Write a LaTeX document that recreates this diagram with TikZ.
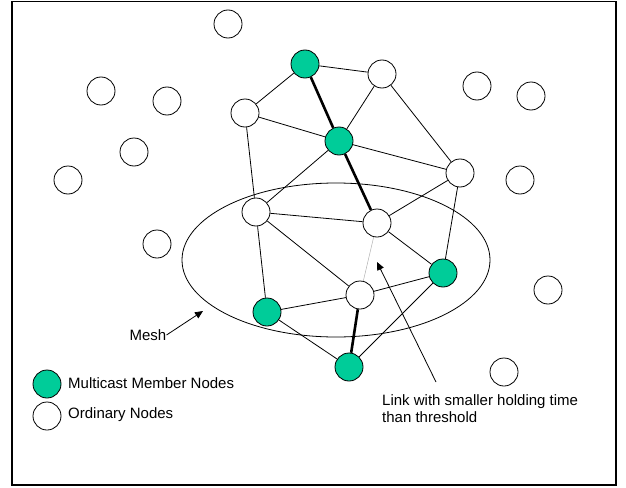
\documentclass[tikz,border=0pt]{standalone}
\usepackage{fontspec}
\setmainfont{Liberation Sans}
\usetikzlibrary{arrows.meta}
\definecolor{membergreen}{RGB}{0,204,153}

\begin{document}
\begin{tikzpicture}[x=1pt,y=-1pt,
  ordinary/.style={
    circle, draw, fill=white, line width=0.8pt,
    minimum size=28pt, inner sep=0pt,
  },
  member/.style={ordinary, fill=membergreen},
  link/.style={line width=0.8pt},
  tree link/.style={line width=2.6pt},
  weak link/.style={line width=0.5pt, draw=gray!60},
  pointer/.style={line width=0.8pt, -{Triangle[length=8pt,width=7pt]}},
  label text/.style={font=\fontsize{15}{17}\selectfont, inner sep=0pt, align=left},
  ]
  \useasboundingbox (0,0) rectangle (626,487);
  \draw[line width=1.6pt] (12,1.5) rectangle (616,485);
  \draw[line width=0.8pt] (336,260) ellipse [x radius=154, y radius=77];
  % mesh nodes
  \node[member] (m1) at (305,64) {};
  \node[member] (m2) at (339,141) {};
  \node[member] (m3) at (267,312) {};
  \node[member] (m4) at (443,273) {};
  \node[member] (m5) at (349,367) {};
  \node[ordinary] (o1) at (382,74) {};
  \node[ordinary] (o2) at (245,113) {};
  \node[ordinary] (o3) at (460,173) {};
  \node[ordinary] (o4) at (256,212) {};
  \node[ordinary] (o5) at (377,223) {};
  \node[ordinary] (o6) at (360,295) {};
  % other nodes
  \node[ordinary] (s1) at (228,24) {};
  \node[ordinary] (s2) at (101,91) {};
  \node[ordinary] (s3) at (167,101) {};
  \node[ordinary] (s4) at (134,152) {};
  \node[ordinary] (s5) at (68,180) {};
  \node[ordinary] (s6) at (157,244) {};
  \node[ordinary] (s7) at (477,86) {};
  \node[ordinary] (s8) at (531,96) {};
  \node[ordinary] (s9) at (520,180) {};
  \node[ordinary] (s10) at (548,290) {};
  \node[ordinary] (s11) at (504,372) {};
  % links
  \draw[link] (m1) -- (o1) (m1) -- (o2) (o1) -- (m2) (o1) -- (o3)
    (o2) -- (m2) (o2) -- (o4) (m2) -- (o3) (m2) -- (o4)
    (o3) -- (o5) (o3) -- (m4) (o4) -- (o5) (o4) -- (m3) (o4) -- (o6)
    (o5) -- (m4) (m3) -- (o6) (m3) -- (m5) (o6) -- (m4) (m5) -- (m4);
  \draw[tree link] (m1) -- (m2) -- (o5);
  \draw[tree link] (o6) -- (m5);
  \draw[weak link] (o5) -- (o6);
  % labels
  \node[label text] (mesh) at (148,335) {Mesh};
  \coordinate (meshtip) at (203,311);
  \draw[pointer] (mesh.east) -- (meshtip);
  \node[label text, anchor=north west] (weak) at (382,394)
    {Link with smaller holding time\\than threshold};
  \coordinate (weakfoot) at (436,382);
  \coordinate (weaktip) at (377,262);
  \draw[pointer] (weakfoot) -- (weaktip);
  % legend
  \node[member] (keymember) at (47,384) {};
  \node[ordinary] (keyordinary) at (47,416) {};
  \node[label text, anchor=west] (keymembertext) at (68,383) {Multicast Member Nodes};
  \node[label text, anchor=west] (keyordinarytext) at (68,415) {Ordinary Nodes};
\end{tikzpicture}
\end{document}
